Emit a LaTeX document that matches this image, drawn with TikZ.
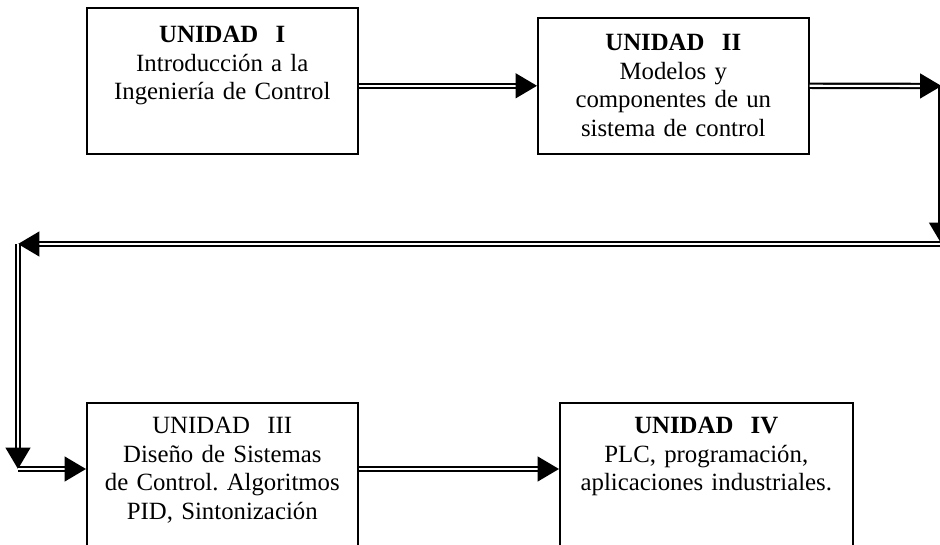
\documentclass[tikz,border=0pt]{standalone}
\usepackage{fontspec}
\setmainfont{Liberation Serif}
\usetikzlibrary{arrows.meta}
\tikzset{
  unit/.style={draw, line width=1.2pt, inner sep=0pt, align=center,
    font=\frenchspacing\fontsize{18.6}{21.4}\selectfont},
  flow/.style={double, double distance=1.6pt, line width=1.6pt,
    -{Triangle[length=16pt,width=18.5pt]}}
}
\newcommand{\unidad}[1]{UNIDAD\hspace{13pt}#1}
\begin{document}
\begin{tikzpicture}[x=0.75pt,y=-0.75pt]
      \clip (0,0) rectangle (940,545);
      \node[unit, anchor=north west, text width=203.25pt, text height=26.25pt, text depth=83.25pt]
        (u1) at (86,7) {\textbf{\unidad{I}}\\Introducción a la\\Ingeniería de Control};
      \node[unit, anchor=north west, text width=203.25pt, text height=24.75pt, text depth=77.25pt]
        (u2) at (537,17) {\textbf{\unidad{II}}\\Modelos y\\componentes de un\\sistema de control};
      \node[unit, anchor=north west, text width=203.25pt, text height=23.25pt, text depth=112.5pt]
        (u3) at (86,402) {\unidad{III}\\Diseño de Sistemas\\de Control. Algoritmos\\PID, Sintonización};
      \node[unit, anchor=north west, text width=219.75pt, text height=23.25pt, text depth=112.5pt]
        (u4) at (559,402) {\textbf{\unidad{IV}}\\PLC, programación,\\aplicaciones industriales.};
      \coordinate (r1) at (941.5,86);
      \coordinate (r2) at (941.5,244);
      \coordinate (l1) at (18,244);
      \coordinate (l2) at (18,469);
      \draw[flow] (u1.east |- u2.west) to (u2.west);
      \draw[flow] (u2.east) to (r1);
      \draw[flow] (r1) to (r2);
      \draw[flow] (r2) to (l1);
      \draw[flow] (l1) to (l2);
      \draw[flow] (l2) to (l2 -| u3.west);
      \draw[flow] (u3.east |- l2) to (u4.west |- l2);
\end{tikzpicture}
\end{document}
